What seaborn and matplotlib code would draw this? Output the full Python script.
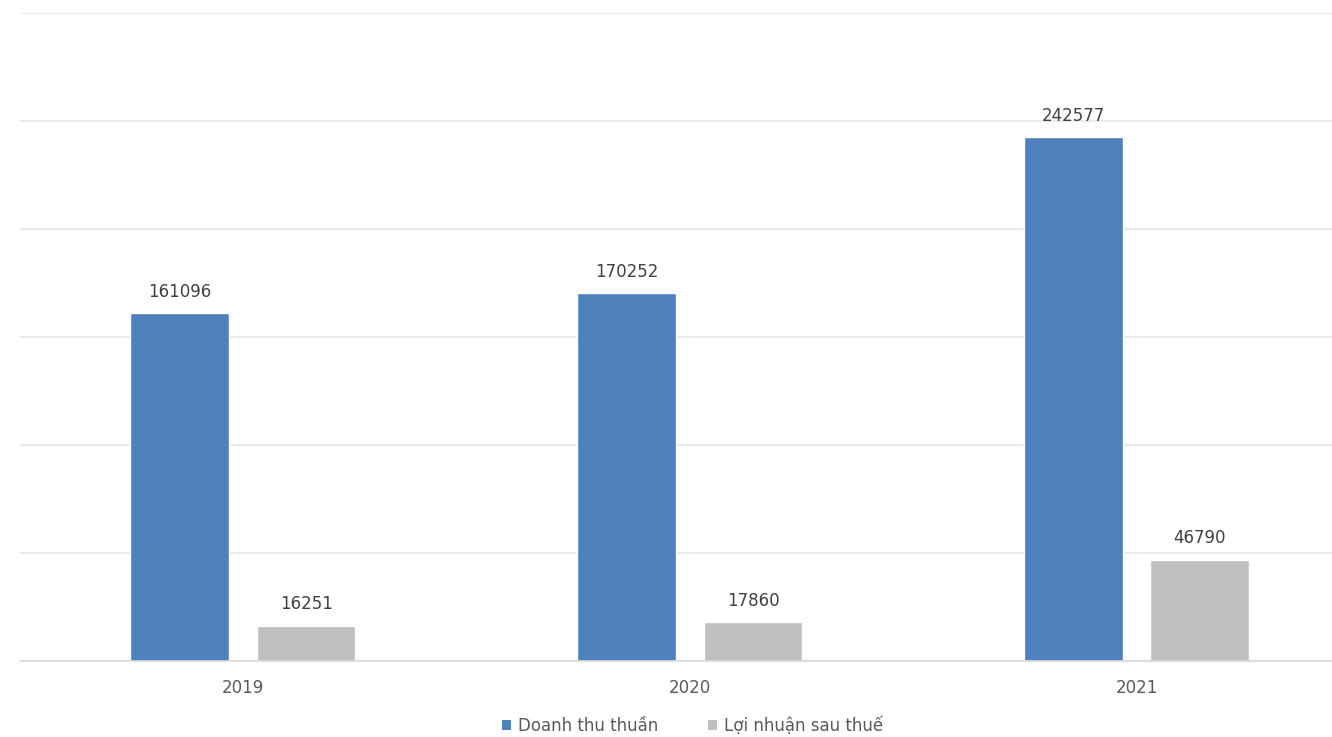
import matplotlib
matplotlib.use("Agg")
import matplotlib.pyplot as plt
import seaborn as sns
import pandas as pd
from matplotlib.patches import Patch

years = ["2019", "2020", "2021"]
doanh_thu = [161096, 170252, 242577]
loi_nhuan = [16251, 17860, 46790]
series_names = ["Doanh thu thuần", "Lợi nhuận sau thuế"]
colors = ["#4F81BD", "#BFBFBF"]

df = pd.DataFrame({
    "Năm": years * 2,
    "Giá trị": doanh_thu + loi_nhuan,
    "Chỉ tiêu": [series_names[0]] * 3 + [series_names[1]] * 3,
})

sns.set_theme(style="white")
plt.rcParams["font.family"] = ["DejaVu Sans"]

fig = plt.figure(figsize=(13.32, 7.37), dpi=100)
ax = fig.add_axes([19.5 / 1332, 1 - 661 / 737, (1360 - 19.5) / 1332, (661 - 13) / 737])

sns.barplot(data=df, x="Năm", y="Giá trị", hue="Chỉ tiêu", palette=colors,
            width=0.566, gap=0.22, ax=ax, legend=False, saturation=1)

ax.set_xlim(-0.5, 2.5)
ax.set_ylim(0, 300000)
ax.set_yticks(range(0, 300001, 50000))
ax.yaxis.grid(True, color="#E6E6E6", linewidth=1.2)
ax.set_axisbelow(True)
ax.set_yticklabels([])
ax.tick_params(axis="y", length=0)
ax.tick_params(axis="x", length=0, labelsize=12, labelcolor="#595959", pad=13)
ax.set_xlabel("")
ax.set_ylabel("")
for s in ["top", "right", "left"]:
    ax.spines[s].set_visible(False)
ax.spines["bottom"].set_color("#D9D9D9")
ax.spines["bottom"].set_linewidth(1.2)

for container in ax.containers:
    for bar in container:
        h = bar.get_height()
        ax.annotate(f"{h:.0f}", (bar.get_x() + bar.get_width() / 2, h),
                    xytext=(0, 9), textcoords="offset points",
                    ha="center", va="bottom", fontsize=12, color="#404040")

handles = [Patch(facecolor=c, edgecolor="none") for c in colors]
fig.legend(handles, series_names, loc="center", bbox_to_anchor=(0.52, 1 - 726 / 737),
           ncol=2, frameon=False, fontsize=12, labelcolor="#595959",
           handlelength=0.55, handleheight=0.55, handletextpad=0.4, columnspacing=3)

fig.savefig("out.png", dpi=100)
